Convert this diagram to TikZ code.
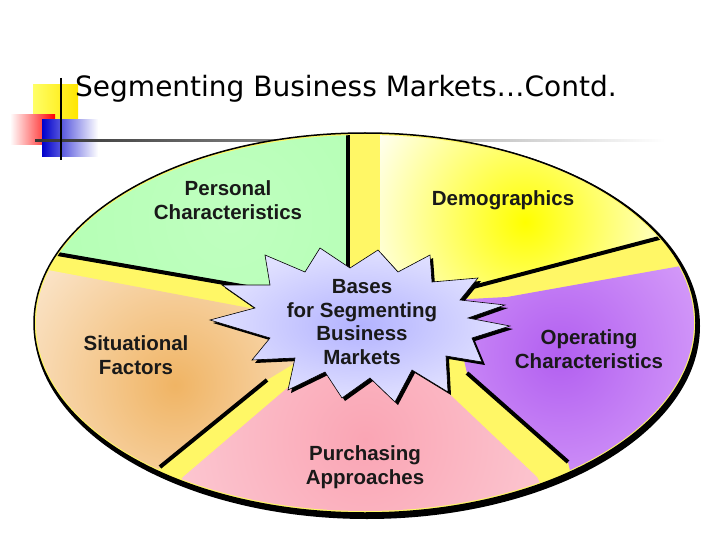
\documentclass[tikz,border=0pt]{standalone}
\usepackage{fontspec}
\setmainfont{Liberation Sans}
\newfontfamily\titlefont{DejaVu Sans}
\definecolor{purpin}{RGB}{178,95,240}
\definecolor{purpout}{RGB}{215,160,250}
\definecolor{pinkin}{RGB}{250,165,180}
\definecolor{pinkout}{RGB}{252,200,210}
\definecolor{orin}{RGB}{240,180,100}
\definecolor{orout}{RGB}{252,235,215}
\begin{document}
\begin{tikzpicture}[x=1pt,y=-1pt,
  lbl/.style={font=\fontsize{20.5}{23.5}\selectfont\bfseries,align=center,text=black!90},
  sep/.style={line width=4pt,black}]
\useasboundingbox (0,0) rectangle (720,540);
\fill[white] (0,0) rectangle (720,540);
% logo
\shade[left color=yellow!60!white, right color=yellow!80!orange] (33,85) rectangle (78,130);
\shade[left color=white, right color=red] (10,115) rectangle (55,145);
\shade[left color=blue!80!black, right color=white] (42,120) rectangle (98,157);
\shade[left color=black!80, right color=white] (35,140) rectangle (665,142);
\draw[line width=2pt] (61,78) -- (61,160);
\node[anchor=base west,font=\titlefont\fontsize{28}{30}\selectfont,inner sep=0] (title) at (75,97) {Segmenting Business Markets\ldots Contd.};
% pie
\fill[black] (367,326) ellipse [x radius=333,y radius=193];
\fill[yellow!60] (365,323) ellipse [x radius=331,y radius=190];
\begin{scope}
\clip (365,323) ellipse [x radius=329,y radius=188];
\begin{scope}
\clip (0,0) -- (348,0) -- (348,310) -- (253,288) -- (0,244) -- cycle;
\shade[inner color=green!25, outer color=green!30!white] (230,220) circle [radius=220];
\end{scope}
\begin{scope}
\clip (0,261) -- (260,310) -- (300,360) -- (267,380) -- (160,467) -- (100,600) -- (0,600) -- cycle;
\shade[inner color=orin, outer color=orout] (175,385) circle [radius=200];
\end{scope}
\begin{scope}
\clip (183,477) -- (293,383) -- (360,330) -- (440,385) -- (537,477) -- (600,600) -- (100,600) -- cycle;
\shade[inner color=pinkin, outer color=pinkout] (365,440) circle [radius=200];
\end{scope}
\begin{scope}
\clip (450,300) -- (507,297) -- (720,259) -- (720,600) -- (600,600) -- (568,462) -- (467,373) -- cycle;
\shade[inner color=purpin, outer color=purpout] (560,355) circle [radius=170];
\end{scope}
\begin{scope}
\clip (380,0) -- (720,0) -- (720,222) -- (473,287) -- (380,300) -- cycle;
\shade[inner color=yellow, outer color=yellow!5] (525,222) circle [radius=170];
\end{scope}
\draw[sep] (348,0) -- (348,300);
\draw[sep] (0,244) -- (253,288);
\draw[sep] (160,467) -- (267,380);
\draw[sep] (568,462) -- (467,373);
\draw[sep] (720,222) -- (473,287);
\end{scope}
\draw[line width=1.5pt] (365,323) ellipse [x radius=331,y radius=190];
% starburst
\def\starpts{(510,326) -- (472,338) -- (482,362) -- (446,356) -- (448,392) -- (412,370) -- (395,402) -- (370,378) -- (342,398) -- (325,372) -- (288,390) -- (295,358) -- (252,360) -- (270,338) -- (210,320) -- (255,308) -- (222,285) -- (270,285) -- (265,255) -- (305,272) -- (320,248) -- (350,268) -- (378,250) -- (398,272) -- (430,255) -- (432,282) -- (478,278) -- (460,300) -- (505,305) -- (468,318) -- cycle}
\fill[black,xshift=3pt,yshift=-3pt] \starpts;
\shade[inner color=blue!30!white, outer color=blue!12!white, draw=black, line width=0.6pt] \starpts;
\node[lbl] (hub) at (362,322) {Bases\\for Segmenting\\Business\\Markets};
\node[lbl] (pc) at (228,200) {Personal\\Characteristics};
\node[lbl] (dem) at (503,200) {Demographics};
\node[lbl] (sf) at (136,355) {Situational\\Factors};
\node[lbl] (oc) at (589,349) {Operating\\Characteristics};
\node[lbl] (pa) at (365,467) {Purchasing\\Approaches};
\end{tikzpicture}
\end{document}
